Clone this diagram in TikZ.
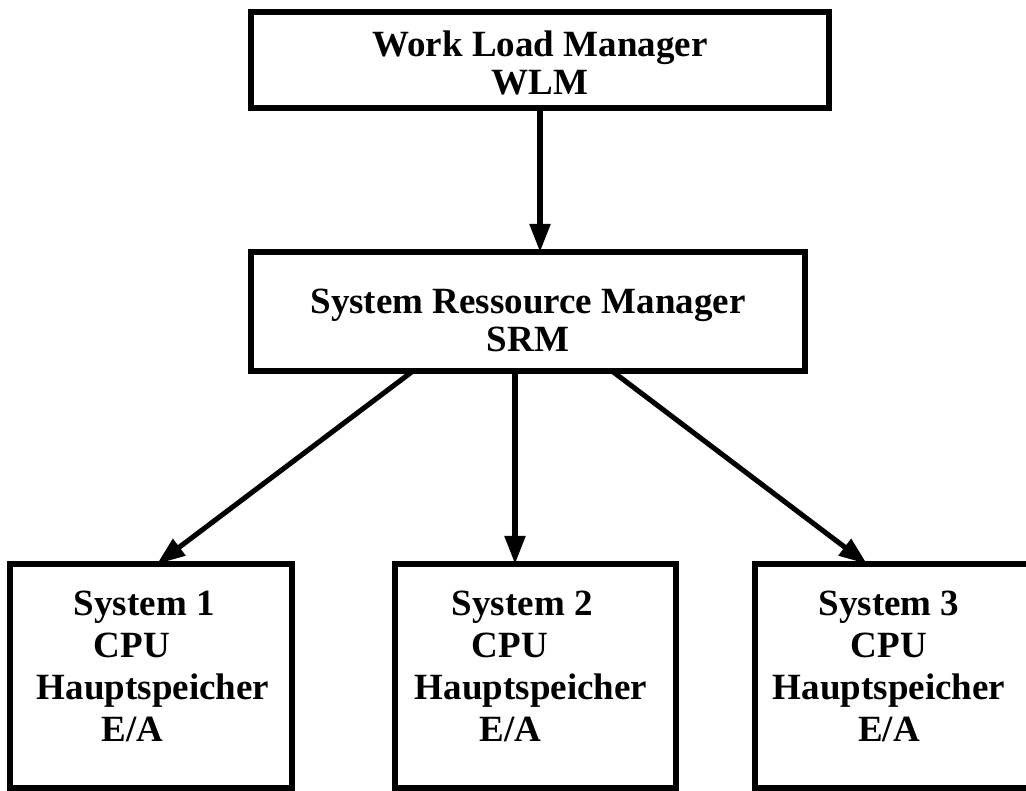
\documentclass[tikz,border=0pt]{standalone}
\usepackage{fontspec}
\setmainfont{Liberation Serif}
\usetikzlibrary{calc,arrows.meta}
\begin{document}
\begin{tikzpicture}[x=0.75pt,y=-0.75pt,
  box/.style={draw, line width=4.2pt, rectangle, inner sep=0pt, outer sep=0pt},
  mgrtext/.style={font=\bfseries\fontsize{27.75pt}{28.5pt}\selectfont, align=center, inner sep=0pt, outer sep=0pt, anchor=base},
  systext/.style={font=\bfseries\fontsize{27.75pt}{31.7pt}\selectfont, inner sep=0pt, outer sep=0pt, anchor=base},
  flow/.style={line width=3.8pt, -{Triangle[length=21pt,width=15pt]}}]
\useasboundingbox (0,0) rectangle (1026,791);

% manager boxes (text nodes are placed by the baseline of their last line)
\node[box, minimum width=433.5pt, minimum height=72pt] (wlm) at (540,60) {};
\node[box, minimum width=415.5pt, minimum height=89.25pt] (srm) at (528,311.5) {};
\node[mgrtext] (wlmtext) at (540,95) {Work Load Manager\\WLM};
\node[mgrtext] (srmtext) at (528,352) {System Ressource Manager\\SRM};

% system boxes
\node[box, minimum width=211.5pt, minimum height=168pt] (s1) at (151,676) {};
\node[box, minimum width=210.75pt, minimum height=168pt] (s2) at (535.5,676) {};
\node[box, minimum width=207.75pt, minimum height=168pt] (s3) at (893.5,676) {};

\node[systext, align=left] (s1text) at (153,742)
  {\hspace*{1em}System 1\\\hspace*{1.54em}CPU\\Hauptspeicher\\\hspace*{1.76em}E/A};
\node[systext, align=left] (s2text) at (531,742)
  {\hspace*{1em}System 2\\\hspace*{1.54em}CPU\\Hauptspeicher\\\hspace*{1.76em}E/A};
\node[systext, align=center] (s3text) at (889,742)
  {System 3\\CPU\\Hauptspeicher\\E/A};

% connectors
\draw[flow] (wlm.south) -- (wlm.south |- srm.north);
\draw[flow] ($(srm.south)+(-115,0)$) -- ($(s1.north)+(6,0)$);
\draw[flow] ($(srm.south)+(-13,0)$) -- ($(s2.north)+(-20.5,0)$);
\draw[flow] ($(srm.south)+(84,0)$) -- ($(s3.north)+(-26.5,0)$);
\end{tikzpicture}
\end{document}
